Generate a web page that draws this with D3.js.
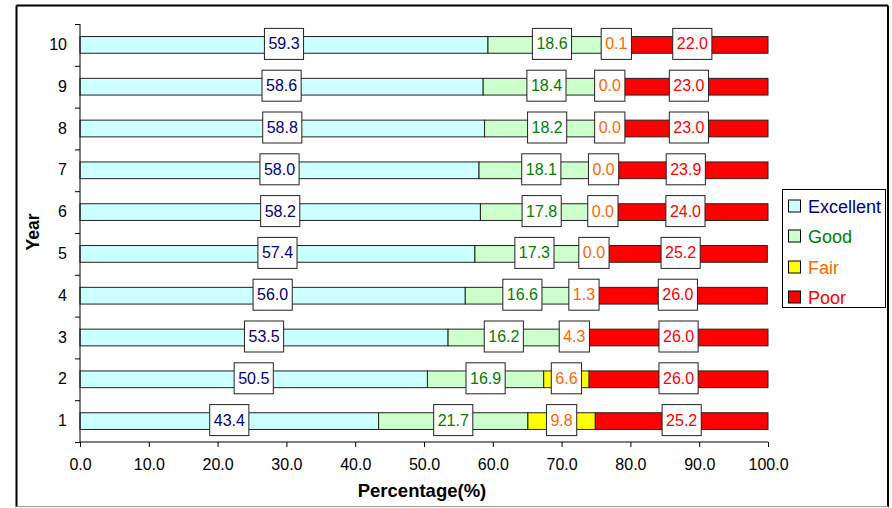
<!DOCTYPE html>
<html><head><meta charset="utf-8">
<script src="https://cdn.jsdelivr.net/npm/d3@7/dist/d3.min.js"></script>
<style>
body{margin:0;background:#fff;}
svg{display:block;font-family:"Liberation Sans",Arial,sans-serif;}
</style></head>
<body><svg id="c" width="892" height="508"></svg>
<script>
const years = ["1","2","3","4","5","6","7","8","9","10"];
const excellent = [43.4,50.5,53.5,56.0,57.4,58.2,58.0,58.8,58.6,59.3];
const good      = [21.7,16.9,16.2,16.6,17.3,17.8,18.1,18.2,18.4,18.6];
const fair      = [9.8,6.6,4.3,1.3,0.0,0.0,0.0,0.0,0.0,0.1];
const poor      = [25.2,26.0,26.0,26.0,25.2,24.0,23.9,23.0,23.0,22.0];
const seriesNames = ["Excellent","Good","Fair","Poor"];
const fills = ["#CCFFFF","#CCFFCC","#FFFF00","#FF0000"];
const textColors = ["#000080","#008000","#FF6600","#FF0000"];
const xTicks = [0,10,20,30,40,50,60,70,80,90,100];

const svg = d3.select("#c");
const L = 80, R = 768, T = 24, B = 442;

// outer border
svg.append("line").attr("x1",16.5).attr("y1",5.5).attr("x2",16.5).attr("y2",507).attr("stroke","#000").attr("stroke-width",2);
svg.append("line").attr("x1",16.5).attr("y1",5.5).attr("x2",888).attr("y2",5.5).attr("stroke","#000").attr("stroke-width",2);
svg.append("line").attr("x1",888).attr("y1",5.5).attr("x2",888).attr("y2",507).attr("stroke","#000").attr("stroke-width",2);
svg.append("line").attr("x1",16.5).attr("y1",506.5).attr("x2",888).attr("y2",506.5).attr("stroke","#999").attr("stroke-width",1);

const x = d3.scaleLinear().domain([0,100]).range([L,R]);
const y = d3.scaleBand().domain(years.slice().reverse()).range([T,B]).paddingInner(0.6).paddingOuter(0.3);
const yLin = d3.scaleLinear().domain([0,10]).range([B,T]);

const series = [excellent,good,fair,poor];
const rows = years.map((yr,i)=>{
  let acc = 0;
  return series.map((s,k)=>{
    const v = s[i];
    const x0 = Math.min(acc,100), x1 = Math.min(acc+v,100);
    acc += v;
    return {yr, k, v, x0, x1};
  });
});
const segs = rows.flat();

// bars
svg.append("g").selectAll("rect").data(segs).join("rect")
  .attr("x",d=>x(d.x0)).attr("width",d=>Math.max(0,x(d.x1)-x(d.x0)))
  .attr("y",d=>y(d.yr)).attr("height",y.bandwidth())
  .attr("fill",d=>fills[d.k]).attr("stroke","#222").attr("stroke-width",1);

// axes
const xAxis = svg.append("g").attr("transform",`translate(0,${B})`)
  .call(d3.axisBottom(x).tickValues(xTicks).tickFormat(d3.format(".1f")).tickSize(5).tickPadding(12));
xAxis.select(".domain").attr("d",`M${L},0H${R}`);
const yTickG = svg.append("g").attr("transform",`translate(${L},0)`)
  .call(d3.axisLeft(yLin).tickValues(d3.range(0,11)).tickFormat("").tickSize(5));
yTickG.select(".domain").attr("d",`M0,${T}V${B}`);
const yLab = svg.append("g").attr("transform",`translate(${L},0)`)
  .call(d3.axisLeft(y).tickSize(0).tickPadding(13));
yLab.select(".domain").remove();
svg.selectAll(".tick text").attr("font-size",16).attr("font-family","Liberation Sans, Arial, sans-serif").attr("fill","#000");
svg.selectAll(".domain, .tick line").attr("stroke","#000");

// data labels
const lab = svg.append("g").selectAll("g").data(segs).join("g")
  .attr("transform",d=>`translate(${x((d.x0+d.x1)/2)},${y(d.yr)+y.bandwidth()/2-1})`);
lab.append("text").attr("text-anchor","middle").attr("y",5.5).attr("font-size",16)
  .attr("fill",d=>textColors[d.k]).text(d=>d.v.toFixed(1));
lab.each(function(){
  const g = d3.select(this);
  const w = g.select("text").node().getComputedTextLength();
  g.insert("rect","text").attr("x",-w/2-4).attr("y",-15.5).attr("width",w+8).attr("height",31)
   .attr("fill","#fff").attr("stroke","#222").attr("stroke-width",1);
});

// axis titles
svg.append("text").attr("x",422).attr("y",497).attr("text-anchor","middle")
  .attr("font-size",18.5).attr("font-weight","bold").text("Percentage(%)");
svg.append("text").attr("transform","translate(39,232) rotate(-90)").attr("text-anchor","middle")
  .attr("font-size",17.5).attr("font-weight","bold").text("Year");

// legend
const lg = svg.append("g");
lg.append("rect").attr("x",782.5).attr("y",189.5).attr("width",103).attr("height",118)
  .attr("fill","#fff").attr("stroke","#000").attr("stroke-width",1);
const legendY = [206,236,267,297];
seriesNames.forEach((n,k)=>{
  lg.append("rect").attr("x",788.5).attr("y",legendY[k]-6).attr("width",12).attr("height",12)
    .attr("fill",fills[k]).attr("stroke","#000").attr("stroke-width",1);
  lg.append("text").attr("x",808).attr("y",legendY[k]+6.5).attr("font-size",18)
    .attr("fill",textColors[k]).text(n);
});
</script></body></html>
